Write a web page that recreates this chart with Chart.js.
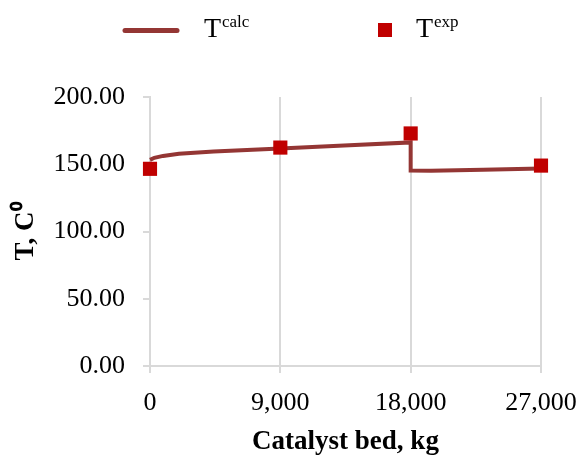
<!DOCTYPE html>
<html>
<head>
<meta charset="utf-8">
<script src="https://cdn.jsdelivr.net/npm/chart.js@4"></script>
<style>
  html, body { margin: 0; padding: 0; background: #fff; }
  #wrap { position: relative; width: 581px; height: 455px; }
</style>
</head>
<body>
<div id="wrap"><canvas id="c" width="581" height="455"></canvas></div>
<script>
// Calculated temperature profile along the catalyst bed
const calcX = [0, 300, 900, 2000, 4400, 9000, 13400, 18000, 18000, 19400, 23000, 27000];
const calcY = [153.3, 154.8, 156.2, 157.8, 159.5, 161.7, 163.9, 166.2, 145.3, 145.2, 146.0, 146.8];
// Experimental points
const expX = [0, 9000, 18000, 27000];
const expY = [146.6, 162.4, 172.9, 149.0];
// Axis ticks
const xTicks = [0, 9000, 18000, 27000];
const yTicks = [0, 50, 100, 150, 200];

const serif = '"Liberation Serif", "Times New Roman", serif';

const legendPlugin = {
  id: 'customLegend',
  afterDraw(chart) {
    const ctx = chart.ctx;
    ctx.save();
    // line sample
    ctx.strokeStyle = '#943634';
    ctx.lineWidth = 5;
    ctx.lineCap = 'round';
    ctx.beginPath();
    ctx.moveTo(125, 30.5);
    ctx.lineTo(177, 30.5);
    ctx.stroke();
    // text
    ctx.fillStyle = '#000';
    ctx.textBaseline = 'alphabetic';
    ctx.textAlign = 'left';
    ctx.font = '28px ' + serif;
    ctx.fillText('T', 204, 37);
    ctx.font = '17px ' + serif;
    ctx.fillText('calc', 222, 27);
    // marker sample
    ctx.fillStyle = '#C00000';
    ctx.fillRect(378, 23, 14, 14);
    ctx.fillStyle = '#000';
    ctx.font = '28px ' + serif;
    ctx.fillText('T', 416, 37);
    ctx.font = '17px ' + serif;
    ctx.fillText('exp', 434, 27);
    ctx.restore();
  }
};

new Chart(document.getElementById('c'), {
  type: 'line',
  data: {
    datasets: [
      {
        label: 'Texp',
        data: expX.map((x, i) => ({ x: x, y: expY[i] })),
        showLine: false,
        pointStyle: 'rect',
        pointRadius: 10,
        pointHoverRadius: 10,
        backgroundColor: '#C00000',
        borderColor: '#C00000',
        borderWidth: 0,
        clip: false,
        order: 0
      },
      {
        label: 'Tcalc',
        data: calcX.map((x, i) => ({ x: x, y: calcY[i] })),
        borderColor: '#943634',
        borderWidth: 4,
        pointRadius: 0,
        tension: 0,
        fill: false,
        clip: false,
        order: 1
      }
    ]
  },
  options: {
    responsive: false,
    animation: false,
    devicePixelRatio: 1,
    layout: { padding: { top: 97, right: 40, left: 0, bottom: 0 } },
    plugins: { legend: { display: false }, tooltip: { enabled: false } },
    scales: {
      x: {
        type: 'linear',
        min: 0, max: 27000,
        afterBuildTicks(scale) { scale.ticks = xTicks.map(v => ({ value: v })); },
        afterFit(scale) { scale.height = 89; scale.paddingRight = 0; scale.paddingLeft = 0; },
        grid: { color: '#d9d9d9', lineWidth: 2, tickLength: 7, drawTicks: true },
        border: { display: true, color: '#d9d9d9', width: 2 },
        ticks: {
          color: '#000',
          padding: 15,
          font: { family: serif, size: 26 },
          callback: v => v.toLocaleString('en-US')
        },
        title: {
          display: true,
          text: 'Catalyst bed, kg',
          color: '#000',
          font: { family: serif, size: 27, weight: 'bold' },
          padding: { top: 0, bottom: -3 }
        }
      },
      y: {
        min: 0, max: 200,
        afterBuildTicks(scale) { scale.ticks = yTicks.map(v => ({ value: v })); },
        afterFit(scale) { scale.width = 150; scale.paddingTop = 0; scale.paddingBottom = 0; },
        grid: { drawOnChartArea: false, color: '#d9d9d9', lineWidth: 2, tickLength: 7, drawTicks: true },
        border: { display: true, color: '#d9d9d9', width: 2 },
        ticks: {
          color: '#000',
          padding: 18,
          font: { family: serif, size: 26 },
          callback: v => v.toFixed(2)
        },
        title: {
          display: true,
          text: 'T, C\u2070',
          color: '#000',
          font: { family: serif, size: 27, weight: 'bold' },
          padding: { top: 10, bottom: 0 }
        }
      }
    }
  },
  plugins: [legendPlugin]
});
</script>
</body>
</html>
